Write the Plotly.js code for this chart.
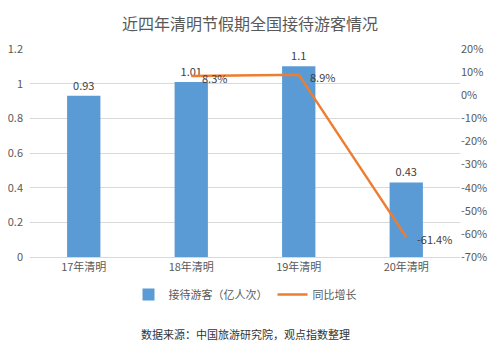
<!DOCTYPE html>
<html><head><meta charset="utf-8">
<script src="https://cdn.plot.ly/plotly-3.0.1.min.js"></script>
<style>html,body{margin:0;padding:0;background:#fff}#c{width:500px;height:354px}</style>
</head><body><div id="c"></div>
<script>
const categories = ['17年清明','18年清明','19年清明','20年清明'];
const visitors = [0.93, 1.01, 1.1, 0.43];
const growthCats = ['18年清明','19年清明','20年清明'];
const growth = [0.083, 0.089, -0.614];
const visitorLabels = ['0.93','1.01','1.1','0.43'];
const growthLabels = ['8.3%','8.9%','-61.4%'];
const rightTickVals = [0.2,0.1,0,-0.1,-0.2,-0.3,-0.4,-0.5,-0.6,-0.7];
const rightTickText = ['20%','10%','0%','-10%','-20%','-30%','-40%','-50%','-60%','-70%'];

const F = '"Noto Sans CJK SC", "Microsoft YaHei", sans-serif';
const data = [
  {type:'bar', x:categories, y:visitors, name:'接待游客（亿人次）',
   marker:{color:'#5B9BD5'}, text:visitorLabels, textposition:'outside',
   textfont:{size:11,color:'#404040'}, cliponaxis:false, hoverinfo:'none'},
  {type:'scatter', mode:'lines', x:growthCats, y:growth, yaxis:'y2', name:'同比增长',
   line:{color:'#ED7D31', width:2.5}, cliponaxis:false, hoverinfo:'none'}
];
const annotations = growthCats.map((c,i)=>({
  x:c, y:growth[i], xref:'x', yref:'y2', text:growthLabels[i], showarrow:false,
  xanchor:'left', yanchor:'middle', xshift:9, yshift:-2,
  font:{size:11,color:'#404040'}
}));
annotations.push({text:'数据来源：中国旅游研究院，观点指数整理', xref:'paper', yref:'paper',
                x:0.5, y:-0.37, xanchor:'center', yanchor:'middle', showarrow:false,
                font:{size:11,color:'#333333'}});
const layout = {
  width:500, height:354,
  margin:{l:30, r:40, t:49, b:97},
  paper_bgcolor:'#fff', plot_bgcolor:'#fff',
  font:{family:F, color:'#595959', size:11},
  title:{text:'近四年清明节假期全国接待游客情况', x:0.5, xanchor:'center', y:0.93, yanchor:'middle',
         font:{size:16, color:'#595959', family:F}},
  bargap:0.69,
  showlegend:true,
  legend:{orientation:'h', x:0.5, xanchor:'center', y:-0.18, yanchor:'middle',
          font:{size:11,color:'#595959'}, itemwidth:30},
  xaxis:{showline:true, linecolor:'#D9D9D9', ticks:'', tickfont:{size:11,color:'#595959'}, fixedrange:true},
  yaxis:{range:[0,1.2], dtick:0.2, showgrid:true, gridcolor:'#D9D9D9', zeroline:false,
         tickfont:{size:11,color:'#595959'}, ticklabelstandoff:6, fixedrange:true},
  yaxis2:{overlaying:'y', side:'right', range:[-0.7,0.2], tickmode:'array',
          tickvals:rightTickVals, ticktext:rightTickText,
          showgrid:false, zeroline:false, tickfont:{size:11,color:'#595959'}, fixedrange:true},
  annotations:annotations
};
Plotly.newPlot('c', data, layout, {displayModeBar:false, staticPlot:true});
</script></body></html>
